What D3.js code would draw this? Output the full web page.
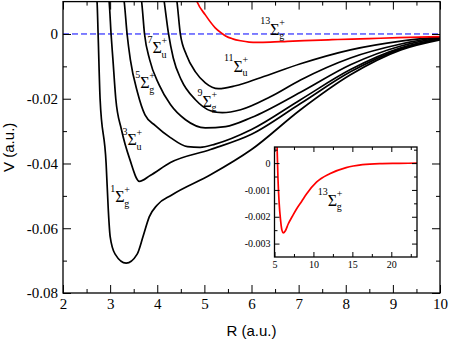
<!DOCTYPE html>
<html><head><meta charset="utf-8">
<script src="https://cdn.jsdelivr.net/npm/d3@7"></script>
<style>body{margin:0;background:#fff}</style>
</head><body>
<svg id="c" width="450" height="340"></svg>
<script>
// ---------- data (R in a.u., V in a.u.) ----------
const r1Sg = [2.70, 2.723, 2.745, 2.787, 2.915, 2.96, 3.00, 3.106, 3.34, 3.574, 3.70, 3.83, 4.0, 4.3, 5.13, 6.0, 7.04, 8.1, 9.17, 10.0];
const v1Sg = [0.012, 0.0098, 0.0, -0.02, -0.04, -0.054, -0.0625, -0.068, -0.0708, -0.068, -0.0625, -0.0565, -0.0528, -0.0498, -0.0435, -0.0357, -0.0234, -0.0126, -0.0049, -0.0018];

const r3Su = [2.96, 2.98, 3.02, 3.06, 3.12, 3.24, 3.42, 3.62, 3.85, 4.28, 5.13, 6.0, 7.04, 8.1, 9.17, 10.0];
const v3Su = [0.012, 0.0098, 0.0, -0.008, -0.02, -0.0295, -0.0388, -0.0455, -0.0437, -0.0397, -0.0357, -0.031, -0.0215, -0.0117, -0.0046, -0.0015];

const r5Sg = [3.28, 3.30, 3.36, 3.43, 3.58, 3.74, 3.96, 4.28, 4.64, 4.91, 5.23, 6.0, 7.04, 8.1, 9.17, 10.0];
const v5Sg = [0.012, 0.0098, 0.0, -0.008, -0.018, -0.025, -0.0283, -0.032, -0.0348, -0.035, -0.034, -0.0295, -0.0203, -0.011, -0.0043, -0.0015];

const r7Su = [3.65, 3.67, 3.73, 3.84, 4.04, 4.28, 4.6, 5.02, 5.45, 6.0, 7.04, 8.1, 9.17, 10.0];
const v7Su = [0.012, 0.0098, 0.0, -0.008, -0.0157, -0.0218, -0.0265, -0.029, -0.0286, -0.0258, -0.018, -0.0095, -0.0037, -0.0012];

const r9Sg = [4.13, 4.15, 4.24, 4.34, 4.51, 4.81, 5.13, 5.38, 5.77, 6.4, 7.04, 8.1, 9.17, 10.0];
const v9Sg = [0.012, 0.0098, 0.0, -0.0074, -0.0142, -0.0203, -0.0237, -0.0243, -0.0234, -0.0194, -0.0142, -0.0074, -0.0031, -0.0009];

const r11Su = [4.40, 4.42, 4.49, 4.62, 4.81, 5.02, 5.3, 5.66, 6.19, 7.04, 8.1, 9.17, 10.0];
const v11Su = [0.012, 0.0098, 0.0, -0.0065, -0.0117, -0.0151, -0.0169, -0.016, -0.0135, -0.0092, -0.0049, -0.0022, -0.0009];

const r13Sg = [4.80, 4.85, 5.02, 5.23, 5.35, 5.45, 5.6, 5.77, 5.95, 6.12, 6.4, 6.76, 7.3, 7.83, 8.5, 9.11, 10.39, 12.09, 14.2, 16.3, 18.5, 21, 23.4];
const v13Sg = [0.0118, 0.0098, 0.0059, 0.0019, 0.0004, -0.0006, -0.0015, -0.0021, -0.0025, -0.0026, -0.00252, -0.00227, -0.00198, -0.00171, -0.00142, -0.00115, -0.00071, -0.0004, -0.00017, -0.00006, -0.00002, -0.00001, 0];

const blackStates = [
  {R: r1Sg, V: v1Sg}, {R: r3Su, V: v3Su}, {R: r5Sg, V: v5Sg},
  {R: r7Su, V: v7Su}, {R: r9Sg, V: v9Sg}, {R: r11Su, V: v11Su}
];

// ticks
const xTicks = [2, 3, 4, 5, 6, 7, 8, 9, 10];
const xTickLabels = ["2", "3", "4", "5", "6", "7", "8", "9", "10"];
const xMinor = [2.5, 3.5, 4.5, 5.5, 6.5, 7.5, 8.5, 9.5];
const yTicks = [0, -0.02, -0.04, -0.06, -0.08];
const yTickLabels = ["0", "-0.02", "-0.04", "-0.06", "-0.08"];
const yMinor = [-0.01, -0.03, -0.05, -0.07];
const insXTicks = [5, 10, 15, 20];
const insXTickLabels = ["5", "10", "15", "20"];
const insXMinor = [7.5, 12.5, 17.5, 22.5];
const insYTicks = [0, -0.001, -0.002, -0.003];
const insYTickLabels = ["0", "-0.001", "-0.002", "-0.003"];
const insYMinor = [0.0005, -0.0005, -0.0015, -0.0025];

// state labels: multiplicity, parity, R, V  (R,V = left/baseline of Σ)
const labelMult = ["1", "3", "5", "7", "9", "11", "13"];
const labelSub = ["g", "u", "g", "u", "g", "u", "g"];
const labelR = [3.11, 3.37, 3.64, 3.90, 4.96, 5.62, 6.40];
const labelV = [-0.0519, -0.0343, -0.0167, -0.0059, -0.0225, -0.0117, -0.0003];
const insetLabelR = 11.83, insetLabelV = -0.00159;

// ---------- drawing ----------
const svg = d3.select("#c");
const L = 63, Rr = 440, T = 1.6, B = 293;
const x = d3.scaleLinear().domain([2, 10]).range([L, Rr]);
const y = d3.scaleLinear().domain([-0.08, 0.01]).range([B, T]);

const serif = "'Liberation Serif', 'Times New Roman', serif";
const sans = "'Liberation Sans', Arial, sans-serif";

svg.append("clipPath").attr("id", "mainclip").append("rect")
  .attr("x", L).attr("y", T).attr("width", Rr - L).attr("height", B - T);

function frameAxes(g, xs, ys, xt, xtl, xm, yt, ytl, ym, major, minor, fsize, pad) {
  const [x0, x1] = xs.range(), [y1, y0] = ys.range();
  g.append("g").attr("transform", `translate(0,${y1})`)
    .call(d3.axisBottom(xs).tickValues(xt).tickSize(-major).tickPadding(pad)
      .tickFormat((d, i) => xtl[i]));
  g.append("g").attr("transform", `translate(0,${y1})`)
    .call(d3.axisBottom(xs).tickValues(xm).tickSize(-minor).tickFormat(""));
  g.append("g").attr("transform", `translate(0,${y0})`)
    .call(d3.axisTop(xs).tickValues(xt).tickSize(-major).tickFormat(""));
  g.append("g").attr("transform", `translate(0,${y0})`)
    .call(d3.axisTop(xs).tickValues(xm).tickSize(-minor).tickFormat(""));
  g.append("g").attr("transform", `translate(${x0},0)`)
    .call(d3.axisLeft(ys).tickValues(yt).tickSize(-major).tickPadding(pad)
      .tickFormat((d, i) => ytl[i]));
  g.append("g").attr("transform", `translate(${x0},0)`)
    .call(d3.axisLeft(ys).tickValues(ym).tickSize(-minor).tickFormat(""));
  g.append("g").attr("transform", `translate(${x1},0)`)
    .call(d3.axisRight(ys).tickValues(yt).tickSize(-major).tickFormat(""));
  g.append("g").attr("transform", `translate(${x1},0)`)
    .call(d3.axisRight(ys).tickValues(ym).tickSize(-minor).tickFormat(""));
  g.selectAll(".domain").remove();
  g.selectAll(".tick line").attr("stroke", "#000").attr("stroke-width", 1);
  g.selectAll(".tick text").attr("font-family", serif).attr("font-size", fsize).attr("fill", "#000");
  g.append("rect").attr("x", x0).attr("y", y0).attr("width", x1 - x0).attr("height", y1 - y0)
    .attr("fill", "none").attr("stroke", "#000").attr("stroke-width", 1.3);
}

const gMain = svg.append("g");
gMain.append("line").attr("x1", x(2)).attr("x2", x(10)).attr("y1", y(0)).attr("y2", y(0))
  .attr("stroke", "#0000ff").attr("stroke-width", 1).attr("stroke-dasharray", "6,3");

const lineMain = (R, V) => d3.line().x((d, i) => x(R[i])).y((d, i) => y(V[i])).curve(d3.curveMonotoneX)(R);
const curves = gMain.append("g").attr("clip-path", "url(#mainclip)");
blackStates.forEach(s => {
  curves.append("path").attr("d", lineMain(s.R, s.V))
    .attr("fill", "none").attr("stroke", "#000").attr("stroke-width", 1.7);
});
curves.append("path").attr("d", lineMain(r13Sg, v13Sg))
  .attr("fill", "none").attr("stroke", "#ff0000").attr("stroke-width", 1.7);

frameAxes(gMain, x, y, xTicks, xTickLabels, xMinor, yTicks, yTickLabels, yMinor, 8, 4, 15, 5);

svg.append("text").attr("x", (L + Rr) / 2).attr("y", 336).attr("text-anchor", "middle")
  .attr("font-family", sans).attr("font-size", 15).text("R (a.u.)");
svg.append("text").attr("transform", `translate(14,${(T + B) / 2}) rotate(-90)`)
  .attr("text-anchor", "middle").attr("font-family", sans).attr("font-size", 15).text("V (a.u.)");

function stateLabel(px, py, mult, sub) {
  const g = svg.append("g").attr("font-family", serif).attr("fill", "#000");
  g.append("text").attr("x", px).attr("y", py - 10.5).attr("text-anchor", "end").attr("font-size", 10).text(mult);
  g.append("text").attr("x", px).attr("y", py).attr("font-size", 16).text("Σ");
  g.append("text").attr("x", px + 9).attr("y", py - 9).attr("font-size", 10).text("+");
  g.append("text").attr("x", px + 9).attr("y", py + 4.5).attr("font-size", 10).text(sub);
}
labelMult.forEach((m, i) => stateLabel(x(labelR[i]), y(labelV[i]), m, labelSub[i]));

// ---------- inset ----------
const iL = 274.5, iR = 417, iT = 147, iB = 257;
const xi = d3.scaleLinear().domain([5, 23.3]).range([iL, iR]);
const yi = d3.scaleLinear().domain([-0.0035, 0.0006]).range([iB, iT]);
svg.append("clipPath").attr("id", "insclip").append("rect")
  .attr("x", iL).attr("y", iT).attr("width", iR - iL).attr("height", iB - iT);
const gIns = svg.append("g");
gIns.append("rect").attr("x", iL).attr("y", iT).attr("width", iR - iL).attr("height", iB - iT).attr("fill", "#fff");
gIns.append("path").attr("clip-path", "url(#insclip)")
  .attr("d", d3.line().x((d, i) => xi(r13Sg[i])).y((d, i) => yi(v13Sg[i])).curve(d3.curveMonotoneX)(r13Sg))
  .attr("fill", "none").attr("stroke", "#ff0000").attr("stroke-width", 1.7);
frameAxes(gIns, xi, yi, insXTicks, insXTickLabels, insXMinor, insYTicks, insYTickLabels, insYMinor, 5, 3, 10, 4);
stateLabel(xi(insetLabelR), yi(insetLabelV), "13", "g");
</script>
</body></html>
